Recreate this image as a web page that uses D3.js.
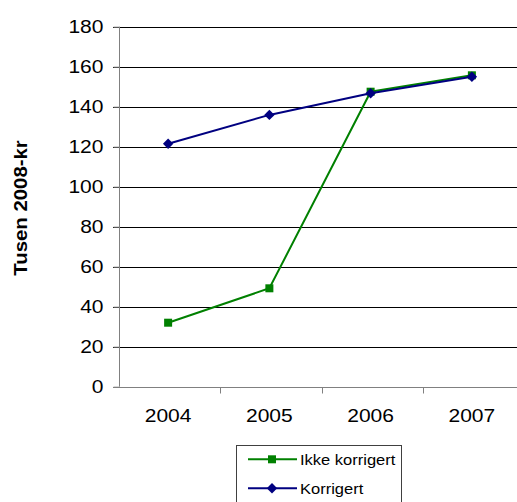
<!DOCTYPE html>
<html>
<head>
<meta charset="utf-8">
<script src="https://cdn.jsdelivr.net/npm/d3@7"></script>
<style>
  html, body { margin: 0; padding: 0; background: #fff; }
  svg { display: block; font-family: "Liberation Sans", Arial, sans-serif; }
</style>
</head>
<body>
<svg id="chart" width="517" height="502"></svg>
<script>
// Data
const years = ["2004", "2005", "2006", "2007"];
const ikkeKorrigert = [32.0, 49.2, 147.5, 155.7];
const korrigert = [121.5, 135.9, 146.7, 155.0];
const yTicks = [0, 20, 40, 60, 80, 100, 120, 140, 160, 180];
const seriesNames = ["Ikke korrigert", "Korrigert"];
const seriesColors = ["#008000", "#000080"];

const svg = d3.select("#chart");

// Widen glyphs slightly to match the wide chart lettering
function stretch(sel, k) {
  sel.each(function () {
    const len = this.getComputedTextLength();
    d3.select(this).attr("textLength", len * k).attr("lengthAdjust", "spacingAndGlyphs");
  });
}

const x = d3.scaleBand().domain(years).range([119, 524]).paddingInner(0).paddingOuter(0);
const y = d3.scaleLinear().domain([0, 180]).range([386.7, 26.7]);
const left = x.range()[0];

// Gridlines
svg.append("g")
  .selectAll("line")
  .data(yTicks.filter(d => d > 0))
  .join("line")
  .attr("x1", left - 6).attr("x2", 517)
  .attr("y1", d => Math.round(y(d)) + 0.5).attr("y2", d => Math.round(y(d)) + 0.5)
  .attr("stroke", "#000").attr("stroke-width", 1);

// Y axis
const yAxis = svg.append("g")
  .attr("transform", `translate(${left + 0.5},0)`)
  .call(d3.axisLeft(y).tickValues(yTicks).tickSize(6).tickPadding(10).tickFormat(d3.format("d")));
yAxis.select(".domain").attr("stroke", "#808080").attr("d", `M0,${y(180)}V${y(0)}`);
yAxis.selectAll(".tick line").attr("stroke", "#808080");
yAxis.selectAll(".tick text")
  .attr("font-size", 18).attr("fill", "#000").attr("font-family", "Liberation Sans, Arial, sans-serif");
stretch(yAxis.selectAll(".tick text"), 1.167);

// X axis (ticks between categories)
const boundaries = years.slice(1).map(d => x(d));
const xAxisG = svg.append("g").attr("transform", `translate(0,${Math.round(y(0)) + 0.5})`);
xAxisG.append("line")
  .attr("x1", left - 6).attr("x2", 517).attr("y1", 0).attr("y2", 0)
  .attr("stroke", "#808080");
xAxisG.selectAll("line.tk")
  .data(boundaries)
  .join("line").attr("class", "tk")
  .attr("x1", d => Math.round(d) + 0.5).attr("x2", d => Math.round(d) + 0.5)
  .attr("y1", 0).attr("y2", 6)
  .attr("stroke", "#808080");
const xLabels = xAxisG.selectAll("text")
  .data(years)
  .join("text")
  .attr("x", d => x(d) + x.bandwidth() / 2 - 1.5)
  .attr("y", 34.5)
  .attr("text-anchor", "middle")
  .attr("font-size", 18)
  .attr("fill", "#000")
  .text(d => d);
stretch(xLabels, 1.167);

// Y axis title
const yTitle = svg.append("text")
  .attr("transform", "translate(27,208) rotate(-90)")
  .attr("text-anchor", "middle")
  .attr("font-size", 17.5)
  .attr("font-weight", "bold")
  .attr("fill", "#000")
  .text("Tusen 2008-kr");
stretch(yTitle, 1.164);

// Series
const cx = d => x(d) + x.bandwidth() / 2 - 1.5;
const seriesData = [ikkeKorrigert, korrigert];
const line = d3.line().x((d, i) => cx(years[i])).y(d => y(d));

function drawMarker(g, type, px, py, color) {
  if (type === 0) {
    g.append("rect")
      .attr("x", px - 4).attr("y", py - 4).attr("width", 8).attr("height", 8)
      .attr("fill", color);
  } else {
    g.append("path")
      .attr("d", "M0,-5.2L5.2,0L0,5.2L-5.2,0Z")
      .attr("transform", `translate(${px},${py})`)
      .attr("fill", color);
  }
}

seriesData.forEach((vals, s) => {
  const g = svg.append("g");
  g.append("path")
    .attr("d", line(vals))
    .attr("fill", "none")
    .attr("stroke", seriesColors[s])
    .attr("stroke-width", 2);
  vals.forEach((v, i) => drawMarker(g, s, cx(years[i]), y(v), seriesColors[s]));
});

// Legend
const legend = svg.append("g");
legend.append("rect")
  .attr("x", 236.5).attr("y", 445.5).attr("width", 165).attr("height", 60)
  .attr("fill", "#fff").attr("stroke", "#404040").attr("stroke-width", 1);
const rows = [459.3, 488.3];
seriesNames.forEach((name, s) => {
  const ry = rows[s];
  legend.append("line")
    .attr("x1", 248).attr("x2", 297).attr("y1", ry).attr("y2", ry)
    .attr("stroke", seriesColors[s]).attr("stroke-width", 2);
  drawMarker(legend, s, 272, ry, seriesColors[s]);
  const t = legend.append("text")
    .attr("x", 300).attr("y", ry + 5.5)
    .attr("font-size", 15)
    .attr("fill", "#000")
    .text(name);
  stretch(t, 1.1);
});
</script>
</body>
</html>
